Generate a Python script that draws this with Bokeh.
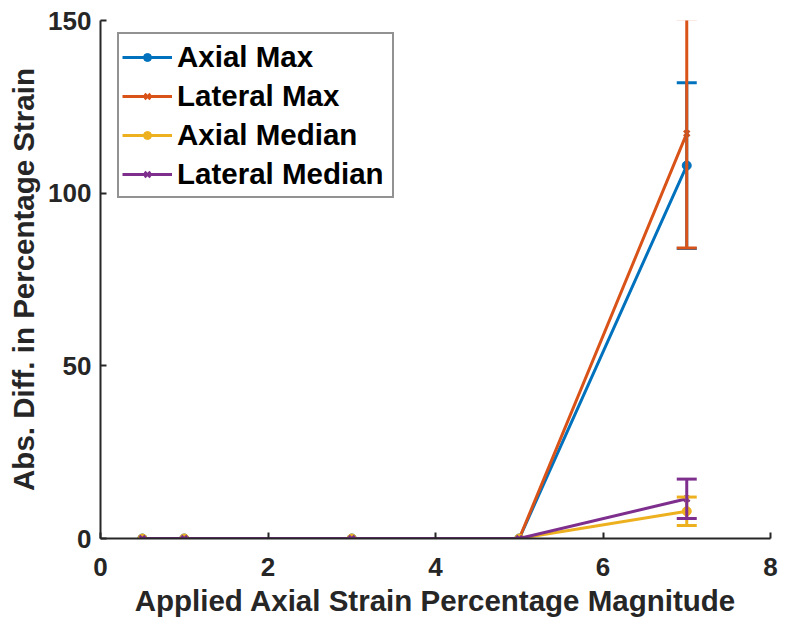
from bokeh.plotting import figure
from bokeh.models import ColumnDataSource, Whisker, TeeHead, Legend, LegendItem, Range1d, FixedTicker
from bokeh.embed import file_html
from bokeh.resources import INLINE

x = [0.5, 1, 3, 5, 7]
axial_max = [0, 0, 0, 0, 108]
axial_max_err = [0, 0, 0, 0, 24]
lateral_max = [0, 0, 0, 0, 117.3]
lateral_max_err = [0, 0, 0, 0, 33.2]
axial_median = [0, 0, 0, 0, 7.9]
axial_median_err = [0, 0, 0, 0, 4.1]
lateral_median = [0, 0, 0, 0, 11.5]
lateral_median_err = [0, 0, 0, 0, 5.7]

names = ["Axial Max", "Lateral Max", "Axial Median", "Lateral Median"]
series = [axial_max, lateral_max, axial_median, lateral_median]
errors = [axial_max_err, lateral_max_err, axial_median_err, lateral_median_err]
colors = ["#0072BD", "#D95319", "#EDB120", "#7E2F8E"]
markers = ["circle", "x", "circle", "x"]

FONT = "Liberation Sans"
TXT = "#262626"

p = figure(width=785, height=624, output_backend="svg", toolbar_location=None,
           x_range=Range1d(0, 8), y_range=Range1d(0, 150),
           min_border_left=100, min_border_right=15, min_border_top=20, min_border_bottom=86)
p.outline_line_color = None
p.xgrid.visible = False
p.ygrid.visible = False

items = []
for name, ys, es, c, m in zip(names, series, errors, colors, markers):
    src = ColumnDataSource(dict(x=x, y=ys))
    r_line = p.line("x", "y", source=src, line_color=c, line_width=3)
    if m == "circle":
        r_mark = p.scatter("x", "y", source=src, marker="circle", size=9,
                           fill_color=c, line_color=c)
    else:
        r_mark = p.scatter("x", "y", source=src, marker="x", size=8,
                           line_color=c, line_width=2.5)
    esrc = ColumnDataSource(dict(x=[x[-1]], upper=[ys[-1] + es[-1]], lower=[ys[-1] - es[-1]]))
    w = Whisker(base="x", upper="upper", lower="lower", source=esrc,
                line_color=c, line_width=3,
                upper_head=TeeHead(size=20, line_color=c, line_width=3),
                lower_head=TeeHead(size=20, line_color=c, line_width=3),
                level="glyph")
    p.add_layout(w)
    items.append(LegendItem(label=name, renderers=[r_line, r_mark]))

legend = Legend(items=items, location=(17, 340))
legend.label_text_font = FONT
legend.label_text_font_style = "bold"
legend.label_text_font_size = "29.5px"
legend.label_text_color = "#000000"
legend.glyph_width = 50
legend.glyph_height = 20
legend.label_height = 39
legend.label_width = 212
legend.label_standoff = 5
legend.spacing = 0
legend.padding = 3
legend.margin = 0
legend.border_line_color = "#262626"
legend.border_line_width = 2
legend.background_fill_alpha = 1
p.add_layout(legend)

for ax in (p.xaxis[0], p.yaxis[0]):
    ax.axis_line_color = TXT
    ax.axis_line_width = 2
    ax.major_tick_line_color = TXT
    ax.major_tick_line_width = 2
    ax.major_tick_in = 6
    ax.major_tick_out = 0
    ax.minor_tick_line_color = None
    ax.major_label_text_font = FONT
    ax.major_label_text_font_style = "bold"
    ax.major_label_text_font_size = "26px"
    ax.major_label_text_color = TXT
    ax.axis_label_text_font = FONT
    ax.axis_label_text_font_style = "bold"
    ax.axis_label_text_font_size = "29.5px"
    ax.axis_label_text_color = TXT

p.xaxis.ticker = FixedTicker(ticks=[0, 2, 4, 6, 8])
p.yaxis.ticker = FixedTicker(ticks=[0, 50, 100, 150])
p.xaxis.axis_label = "Applied Axial Strain Percentage Magnitude"
p.yaxis.axis_label = "Abs. Diff. in Percentage Strain"
p.xaxis.major_label_standoff = 19
p.yaxis.major_label_standoff = 9
p.xaxis.axis_label_standoff = 5
p.yaxis.axis_label_standoff = 5

open("out.html", "w").write(file_html(p, INLINE))
